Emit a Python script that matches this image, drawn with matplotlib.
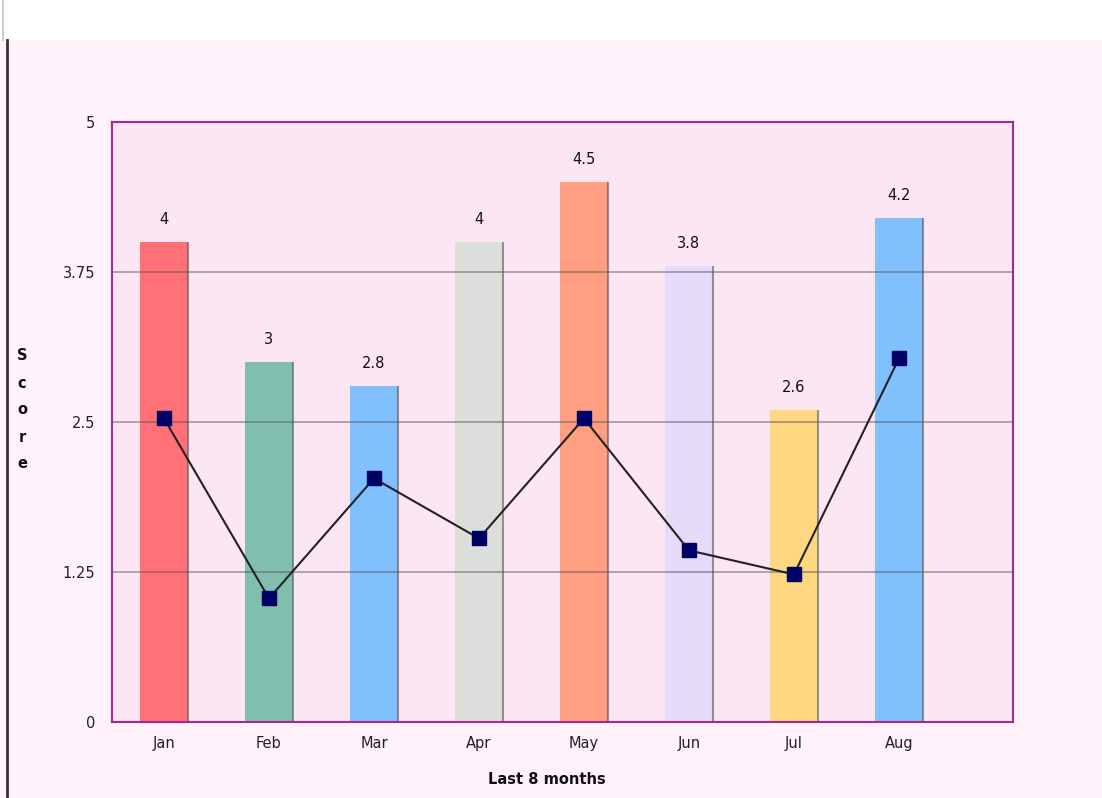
import matplotlib.pyplot as plt
from matplotlib.patches import Rectangle
from matplotlib.lines import Line2D

months = ['Jan', 'Feb', 'Mar', 'Apr', 'May', 'Jun', 'Jul', 'Aug']
bar_values = [4, 3, 2.8, 4, 4.5, 3.8, 2.6, 4.2]
line_values = [2.53, 1.03, 2.03, 1.53, 2.53, 1.43, 1.23, 3.03]
bar_colors = ['#ff7077', '#80bfae', '#80c0fd', '#dcdedb', '#ff9e80',
              '#e6dbf8', '#ffd780', '#80c0fd']
y_ticks = [0, 1.25, 2.5, 3.75, 5]
y_tick_labels = ['0', '1.25', '2.5', '3.75', '5']

W, H = 1102, 798
fig = plt.figure(figsize=(W / 100, H / 100), dpi=100, facecolor='#fff2fa')

# white strip on top and the page edge on the left
fig.patches.append(Rectangle((0, 1 - 40 / H), 1, 40 / H, transform=fig.transFigure,
                             facecolor='white', edgecolor='none', zorder=0))
fig.add_artist(Line2D([7 / W, 7 / W], [0, 1 - 40 / H], color='#333333', lw=2))
fig.add_artist(Line2D([3 / W, 3 / W], [1 - 40 / H, 1], color='#cccccc', lw=1.5))

ax = fig.add_axes([112 / W, 1 - 722 / H, (1013 - 112) / W, (722 - 122) / H])
ax.set_facecolor('#fde6f4')
for s in ax.spines.values():
    s.set_color('#a8288e')
    s.set_linewidth(1.5)

x = list(range(len(months)))
bw = 0.46
ax.bar(x, bar_values, width=bw, color=bar_colors, edgecolor='none', zorder=2)
# darker right edge on each bar
ax.vlines([i + bw / 2 for i in x], 0, bar_values, color='#555555', alpha=0.6, lw=1.5, zorder=3)

for i, v in zip(x, bar_values):
    ax.annotate(f'{v:g}', (i, v), xytext=(0, 11), textcoords='offset points',
                ha='center', va='bottom', fontsize=10.5, color='#111111')

for y in [1.25, 2.5, 3.75]:
    ax.axhline(y, color='#555555', alpha=0.55, lw=1.2, zorder=4)

ax.plot(x, line_values, color='#222222', lw=1.5, marker='s', markersize=10,
        markerfacecolor='#000066', markeredgecolor='#000066', zorder=5)

ax.set_xlim(-0.495, 8.086)
ax.set_ylim(0, 5)
ax.set_xticks(x)
ax.set_xticklabels(months, fontsize=10.5, color='#222222')
ax.set_yticks(y_ticks)
ax.set_yticklabels(y_tick_labels, fontsize=10.5, color='#222222')
ax.tick_params(axis='both', length=0, pad=12)
ax.tick_params(axis='x', pad=10)

fig.text(547 / W, 1 - 780 / H, 'Last 8 months', ha='center', va='center',
         fontsize=10.5, fontweight='bold', color='#111111')
fig.text(22 / W, 1 - 410 / H, 'S\nc\no\nr\ne', ha='center', va='center',
         fontsize=10.5, fontweight='bold', color='#111111', linespacing=2.0)

fig.savefig('out.png', dpi=100, facecolor=fig.get_facecolor())
